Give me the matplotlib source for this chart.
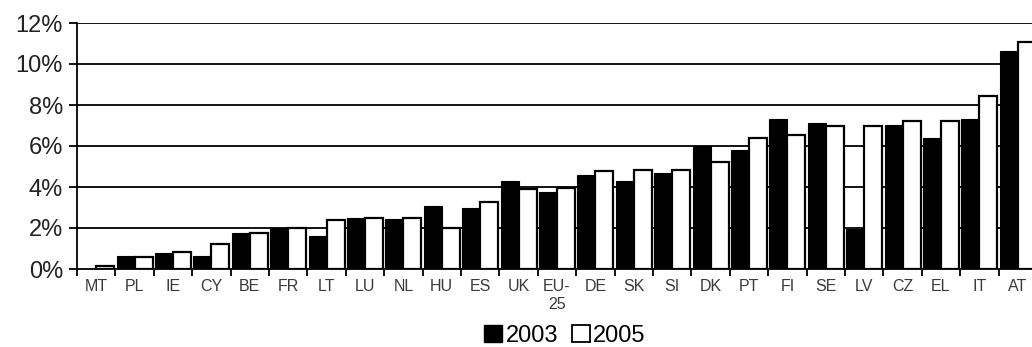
import numpy as np
import matplotlib.pyplot as plt
from matplotlib.patches import Patch

plt.rcParams['font.family'] = ['Liberation Sans', 'DejaVu Sans']

countries = ['MT', 'PL', 'IE', 'CY', 'BE', 'FR', 'LT', 'LU', 'NL', 'HU', 'ES', 'UK',
             'EU-\n25', 'DE', 'SK', 'SI', 'DK', 'PT', 'FI', 'SE', 'LV', 'CZ', 'EL', 'IT', 'AT']
share_2003 = [0.0, 0.65, 0.77, 0.64, 1.78, 2.02, 1.61, 2.5, 2.43, 3.08, 3.0, 4.3,
              3.78, 4.59, 4.3, 4.67, 5.98, 5.81, 7.33, 7.12, 1.94, 7.04, 6.38, 7.33, 10.62]
share_2005 = [0.15, 0.6, 0.85, 1.2, 1.74, 1.99, 2.4, 2.47, 2.5, 2.02, 3.29, 3.89,
              3.97, 4.76, 4.84, 4.84, 5.21, 6.38, 6.55, 7.0, 7.0, 7.2, 7.2, 8.42, 11.06]
y_ticks = [0, 2, 4, 6, 8, 10, 12]

fig = plt.figure(figsize=(10.32, 3.47), dpi=100)
ax = fig.add_axes([77 / 1032, 1 - 269 / 347, 960 / 1032, 246 / 347])

x = np.arange(len(countries))
w = 0.467

# horizontal grid sits behind the bars
for t in y_ticks[1:]:
    ax.axhline(t, color='black', lw=1.3, zorder=0)

ax.bar(x - w / 2, share_2003, width=w, color='black', edgecolor='black', lw=0.8, zorder=2)
ax.bar(x + w / 2, share_2005, width=w, color='white', edgecolor='black', lw=1.6, zorder=2)

ax.set_xlim(-0.5, len(countries) - 0.5)
ax.set_ylim(0, 12)

ax.set_yticks(y_ticks)
ax.set_yticklabels([f'{t}%' for t in y_ticks], fontsize=17, color='#222222')
ax.tick_params(axis='y', length=6, width=1.3, direction='out', pad=4)

# tick marks between categories, labels centred under each pair
ax.set_xticks(np.arange(len(countries) + 1) - 0.5)
ax.set_xticklabels([])
ax.tick_params(axis='x', which='major', length=5, width=1.3, direction='out')
ax.set_xticks(x, minor=True)
ax.set_xticklabels(countries, minor=True, fontsize=11.5, color='#3a3a3a', linespacing=1.25)
ax.tick_params(axis='x', which='minor', length=0, pad=7)

for s in ['top', 'right']:
    ax.spines[s].set_visible(False)
ax.spines['left'].set_linewidth(1.3)
ax.spines['bottom'].set_linewidth(1.3)
ax.spines['bottom'].set_zorder(3)

handles = [Patch(facecolor='black', edgecolor='black', label='2003'),
           Patch(facecolor='white', edgecolor='black', lw=1.3, label='2005')]
fig.legend(handles=handles, loc='center', bbox_to_anchor=(565 / 1032, 1 - 336 / 347),
           ncol=2, frameon=False, fontsize=17, handlelength=0.75, handleheight=0.75,
           handletextpad=0.15, columnspacing=0.6, borderaxespad=0)

fig.savefig('out.png', dpi=100)
